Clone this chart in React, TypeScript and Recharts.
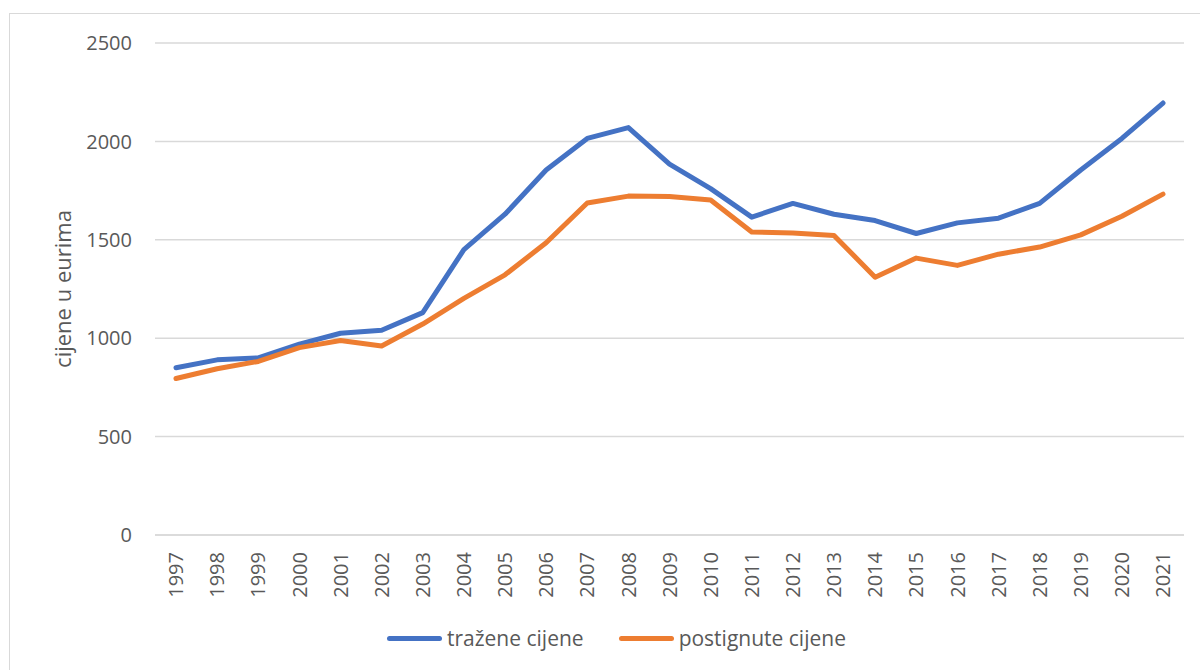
import { CartesianGrid, Line, LineChart, XAxis, YAxis } from 'recharts';

const years = [
  '1997', '1998', '1999', '2000', '2001', '2002', '2003', '2004', '2005',
  '2006', '2007', '2008', '2009', '2010', '2011', '2012', '2013', '2014',
  '2015', '2016', '2017', '2018', '2019', '2020', '2021',
];

// tražene cijene (asking prices)
const askingPrices = [
  850, 890, 900, 970, 1025, 1040, 1130, 1450, 1630, 1855, 2015, 2070, 1885,
  1760, 1615, 1685, 1630, 1598, 1532, 1586, 1610, 1685, 1855, 2015, 2195,
];

// postignute cijene (achieved prices)
const achievedPrices = [
  795, 845, 882, 952, 988, 960, 1072, 1202, 1322, 1485, 1687, 1722, 1720,
  1702, 1540, 1535, 1522, 1310, 1407, 1370, 1427, 1463, 1525, 1620, 1732,
];

const yTicks = [0, 500, 1000, 1500, 2000, 2500];

const SERIES = [
  { key: 'trazene', name: 'tražene cijene', color: '#4472C4' },
  { key: 'postignute', name: 'postignute cijene', color: '#ED7D31' },
];

const FONT = '"Open Sans", sans-serif';
const TEXT_COLOR = '#595959';

const data = years.map((year, i) => ({
  year,
  trazene: askingPrices[i],
  postignute: achievedPrices[i],
}));

function YearTick(props: any) {
  const { x, y, payload } = props;
  return (
    <text
      x={x}
      y={y}
      transform={`rotate(-90, ${x}, ${y})`}
      textAnchor="end"
      dy="0.36em"
      fill={TEXT_COLOR}
      fontSize={20}
      fontFamily={FONT}
    >
      {payload.value}
    </text>
  );
}

function YLabel(props: any) {
  const { viewBox } = props;
  const cx = 62;
  const cy = viewBox.y + viewBox.height / 2;
  return (
    <text
      x={cx}
      y={cy}
      transform={`rotate(-90, ${cx}, ${cy})`}
      textAnchor="middle"
      dominantBaseline="central"
      fill={TEXT_COLOR}
      fontSize={22}
      fontFamily={FONT}
    >
      cijene u eurima
    </text>
  );
}

function ChartLegend() {
  return (
    <div
      style={{
        position: 'absolute',
        left: 387,
        top: 625,
        display: 'flex',
        alignItems: 'center',
        fontFamily: FONT,
      }}
    >
      {SERIES.map((s, i) => (
        <div
          key={s.key}
          style={{
            display: 'flex',
            alignItems: 'center',
            marginLeft: i === 0 ? 0 : 35,
          }}
        >
          <div
            style={{
              width: 55,
              height: 5,
              borderRadius: 3,
              background: s.color,
              marginRight: 5,
            }}
          />
          <span style={{ fontSize: 21, color: TEXT_COLOR, lineHeight: '26px' }}>
            {s.name}
          </span>
        </div>
      ))}
    </div>
  );
}

export default function App() {
  return (
    <div
      style={{
        position: 'absolute',
        left: 0,
        top: 0,
        width: 1200,
        height: 670,
        overflow: 'hidden',
        background: '#fff',
      }}
    >
      <div
        style={{
          position: 'absolute',
          left: 9,
          top: 13,
          width: 1240,
          height: 720,
          border: '1.5px solid #D9D9D9',
        }}
      />
      <LineChart
        width={1200}
        height={670}
        data={data}
        margin={{ top: 43, right: 16, bottom: 0, left: 0 }}
        style={{ position: 'absolute', left: 0, top: 0 }}
      >
        <CartesianGrid vertical={false} stroke="#D9D9D9" strokeWidth={1.5} />
        <XAxis
          dataKey="year"
          axisLine={{ stroke: '#D9D9D9', strokeWidth: 1.5 }}
          tickLine={false}
          padding={{ left: 21, right: 21 }}
          interval={0}
          tick={<YearTick />}
          tickSize={0}
          tickMargin={17}
          height={135}
        />
        <YAxis
          width={155}
          domain={[0, 2500]}
          ticks={yTicks}
          axisLine={false}
          tickLine={false}
          tickSize={0}
          tickMargin={23}
          tick={{ fill: TEXT_COLOR, fontSize: 20, fontFamily: FONT }}
          label={<YLabel />}
        />
        {SERIES.map((s) => (
          <Line
            key={s.key}
            type="linear"
            dataKey={s.key}
            name={s.name}
            stroke={s.color}
            strokeWidth={5}
            strokeLinecap="round"
            strokeLinejoin="round"
            dot={false}
            activeDot={false}
            isAnimationActive={false}
          />
        ))}
      </LineChart>
      <ChartLegend />
    </div>
  );
}
